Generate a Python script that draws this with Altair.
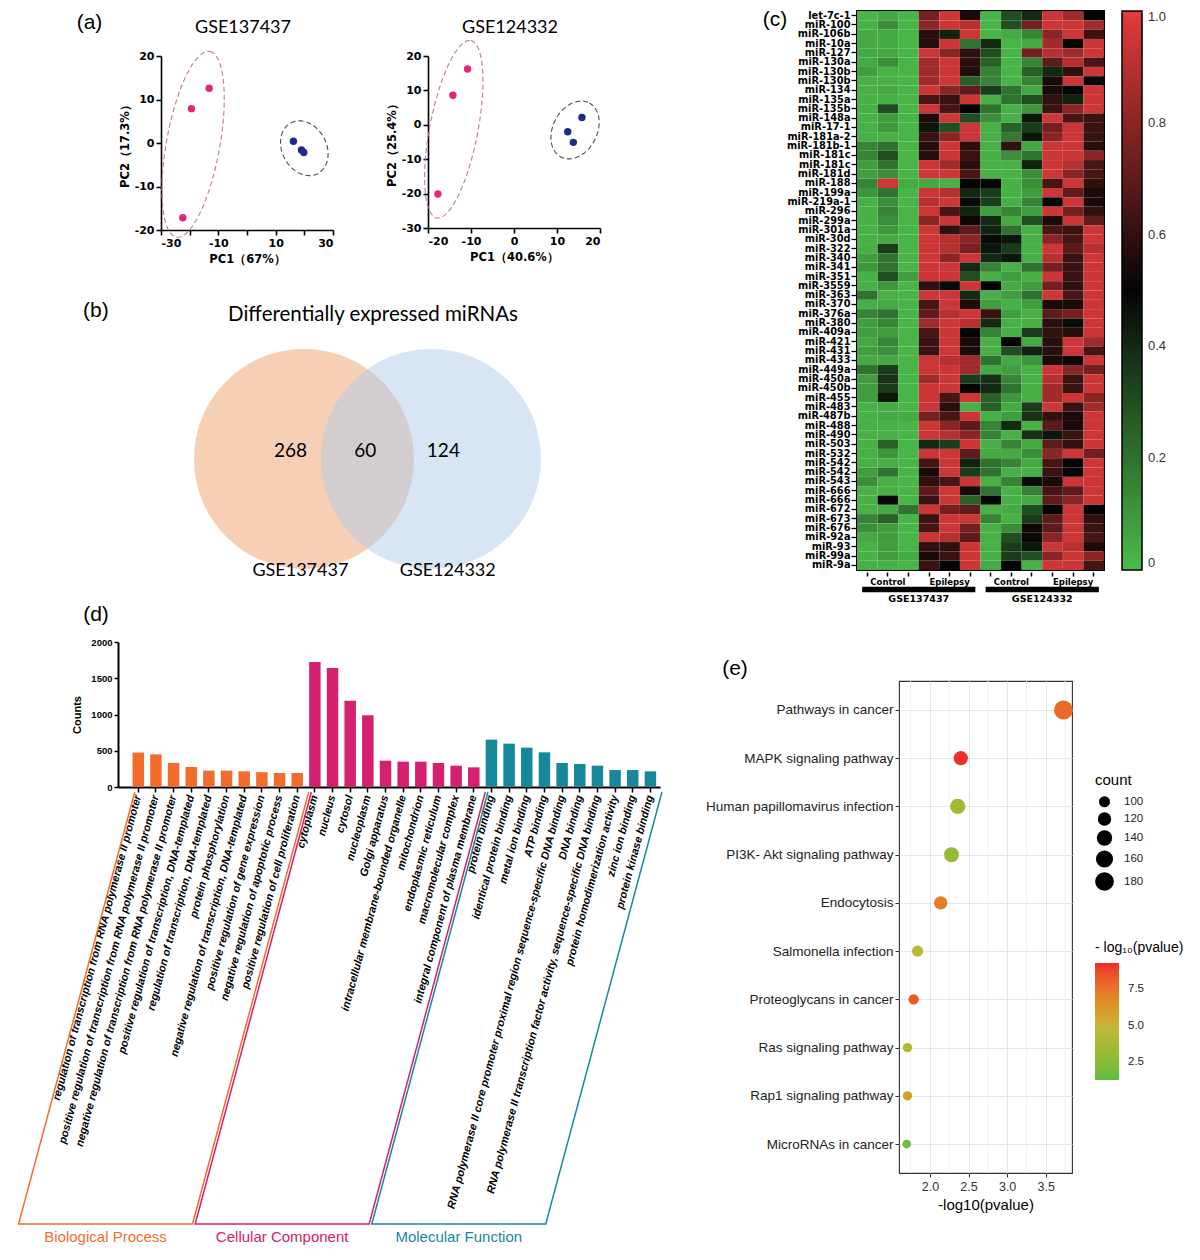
import math
import altair as alt
import pandas as pd

# ============================ DATA ============================
# (a) PCA scores
pca137_pc1 = [-13.2, -19.4, -22.4, 16.2, 19.0, 19.8]
pca137_pc2 = [12.6, 7.9, -17.2, 0.4, -1.6, -2.2]
pca124_pc1 = [-10.8, -14.2, -17.7, 15.8, 12.5, 13.8]
pca124_pc2 = [16.2, 8.6, -20.1, 2.1, -2.0, -5.1]
pca_groups = ["Epilepsy", "Epilepsy", "Epilepsy", "Control", "Control", "Control"]
# group ellipse centres (data units)
ell137_cx = [-18.8, 20.0]
ell137_cy = [-0.3, -1.2]
ell124_cx = [-14.0, 14.2]
ell124_cy = [-1.3, -1.5]

# (b) Venn
venn_sets = ["GSE137437", "GSE124332"]
venn_counts = [268, 60, 124]
venn_title = "Differentially expressed miRNAs"

# (c) heatmap
mirnas = ["let-7c-1", "miR-100", "miR-106b", "miR-10a", "miR-127", "miR-130a", "miR-130b", "miR-130b",
          "miR-134", "miR-135a", "miR-135b", "miR-148a", "miR-17-1", "miR-181a-2", "miR-181b-1", "miR-181c",
          "miR-181c", "miR-181d", "miR-188", "miR-199a", "miR-219a-1", "miR-296", "miR-299a", "miR-301a",
          "miR-30d", "miR-322", "miR-340", "miR-341", "miR-351", "miR-3559", "miR-363", "miR-370",
          "miR-376a", "miR-380", "miR-409a", "miR-421", "miR-431", "miR-433", "miR-449a", "miR-450a",
          "miR-450b", "miR-455", "miR-483", "miR-487b", "miR-488", "miR-490", "miR-503", "miR-532",
          "miR-542", "miR-542", "miR-543", "miR-666", "miR-666", "miR-672", "miR-673", "miR-676",
          "miR-92a", "miR-93", "miR-99a", "miR-9a"]
heat_datasets = ["GSE137437", "GSE124332"]
heat_conditions = ["Control", "Epilepsy"]
ctrl_137 = [(0.02,0.05,0.02),(0.03,0.12,0.02),(0.05,0.05,0.02),(0.05,0.05,0.02),(0.05,0.05,0.02),
            (0.05,0.12,0.02),(0.08,0.03,0.02),(0.03,0.03,0.02),(0.03,0.05,0.02),(0.03,0.03,0.02),
            (0.03,0.30,0.02),(0.03,0.08,0.02),(0.03,0.10,0.02),(0.03,0.03,0.02),(0.15,0.20,0.02),
            (0.15,0.30,0.02),(0.08,0.20,0.02),(0.08,0.12,0.02),(0.15,0.95,0.05),(0.10,0.20,0.02),
            (0.03,0.12,0.02),(0.03,0.15,0.02),(0.03,0.12,0.02),(0.03,0.10,0.02),(0.03,0.05,0.02),
            (0.03,0.35,0.02),(0.08,0.20,0.02),(0.10,0.20,0.02),(0.03,0.30,0.08),(0.03,0.10,0.02),
            (0.20,0.03,0.02),(0.03,0.05,0.02),(0.15,0.20,0.02),(0.08,0.15,0.02),(0.08,0.08,0.02),
            (0.05,0.15,0.02),(0.08,0.12,0.02),(0.05,0.05,0.02),(0.20,0.35,0.02),(0.08,0.38,0.02),
            (0.08,0.35,0.02),(0.08,0.45,0.02),(0.03,0.05,0.02),(0.03,0.05,0.05),(0.03,0.03,0.02),
            (0.03,0.03,0.02),(0.03,0.25,0.02),(0.03,0.10,0.02),(0.03,0.03,0.02),(0.08,0.20,0.02),
            (0.12,0.03,0.02),(0.03,0.03,0.02),(0.03,0.52,0.02),(0.03,0.05,0.20),(0.15,0.25,0.02),
            (0.12,0.08,0.02),(0.05,0.08,0.02),(0.03,0.08,0.02),(0.03,0.08,0.05),(0.03,0.03,0.02)]
epi_137 = [(0.75,0.95,0.55),(0.80,0.95,0.90),(0.58,0.42,0.95),(0.58,0.95,0.20),(0.95,0.80,0.60),
           (0.85,0.95,0.58),(0.85,0.95,0.57),(0.85,0.95,0.25),(0.95,0.80,0.70),(0.65,0.62,0.95),
           (0.95,0.65,0.50),(0.56,0.95,0.30),(0.45,0.30,0.95),(0.62,0.80,0.95),(0.57,0.95,0.58),
           (0.58,0.95,0.62),(0.95,0.85,0.58),(0.95,0.95,0.65),(0.05,0.03,0.50),(0.95,0.90,0.40),
           (0.90,0.95,0.48),(0.95,0.65,0.42),(0.80,0.95,0.52),(0.95,0.60,0.70),(0.95,0.90,0.80),
           (0.95,0.90,0.75),(0.95,0.80,0.95),(0.95,0.95,0.40),(0.95,0.95,0.30),(0.60,0.48,0.95),
           (0.95,0.95,0.40),(0.65,0.95,0.55),(0.70,0.90,0.95),(0.85,0.95,0.90),(0.65,0.95,0.50),
           (0.62,0.95,0.55),(0.62,0.95,0.55),(0.95,0.90,0.85),(0.95,0.95,0.85),(0.85,0.95,0.35),
           (0.95,0.95,0.50),(0.95,0.65,0.95),(0.95,0.58,0.03),(0.75,0.65,0.95),(0.95,0.80,0.70),
           (0.95,0.90,0.80),(0.40,0.35,0.95),(0.95,0.95,0.70),(0.65,0.95,0.42),(0.55,0.95,0.35),
           (0.60,0.65,0.95),(0.70,0.95,0.55),(0.62,0.95,0.25),(0.95,0.75,0.70),(0.62,0.95,0.95),
           (0.65,0.95,0.75),(0.95,0.90,0.70),(0.60,0.60,0.95),(0.55,0.62,0.95),(0.62,0.50,0.95)]
ctrl_124 = [(0.02,0.30,0.40),(0.02,0.30,0.75),(0.02,0.05,0.15),(0.40,0.02,0.05),(0.30,0.02,0.75),
            (0.25,0.02,0.15),(0.15,0.02,0.25),(0.15,0.02,0.15),(0.35,0.20,0.05),(0.03,0.20,0.30),
            (0.20,0.03,0.10),(0.12,0.03,0.45),(0.03,0.25,0.35),(0.03,0.18,0.45),(0.03,0.60,0.05),
            (0.03,0.12,0.20),(0.03,0.03,0.42),(0.03,0.03,0.12),(0.50,0.03,0.12),(0.35,0.03,0.08),
            (0.35,0.03,0.15),(0.08,0.15,0.08),(0.40,0.05,0.30),(0.42,0.20,0.03),(0.48,0.45,0.03),
            (0.45,0.35,0.03),(0.40,0.45,0.03),(0.15,0.03,0.20),(0.03,0.08,0.03),(0.50,0.05,0.08),
            (0.03,0.08,0.20),(0.08,0.03,0.08),(0.62,0.08,0.03),(0.40,0.03,0.03),(0.15,0.03,0.35),
            (0.03,0.50,0.05),(0.03,0.30,0.42),(0.20,0.05,0.10),(0.05,0.08,0.03),(0.38,0.15,0.03),
            (0.40,0.20,0.03),(0.25,0.10,0.03),(0.25,0.05,0.35),(0.03,0.08,0.38),(0.15,0.40,0.03),
            (0.15,0.03,0.38),(0.03,0.15,0.05),(0.05,0.05,0.12),(0.20,0.15,0.05),(0.20,0.03,0.03),
            (0.03,0.15,0.48),(0.20,0.03,0.15),(0.50,0.03,0.05),(0.03,0.05,0.30),(0.15,0.03,0.35),
            (0.03,0.12,0.52),(0.03,0.30,0.52),(0.03,0.35,0.45),(0.03,0.35,0.30),(0.05,0.50,0.03)]
epi_124 = [(0.95,0.85,0.50),(0.95,0.95,0.85),(0.80,0.95,0.62),(0.85,0.50,0.95),(0.90,0.85,0.95),
           (0.70,0.90,0.65),(0.40,0.60,0.95),(0.55,0.95,0.52),(0.55,0.50,0.95),(0.60,0.42,0.95),
           (0.62,0.80,0.95),(0.95,0.65,0.62),(0.75,0.95,0.62),(0.80,0.95,0.62),(0.95,0.95,0.58),
           (0.95,0.95,0.80),(0.95,0.90,0.65),(0.95,0.80,0.65),(0.65,0.95,0.60),(0.95,0.70,0.55),
           (0.50,0.95,0.55),(0.95,0.75,0.60),(0.55,0.95,0.70),(0.65,0.62,0.95),(0.80,0.65,0.95),
           (0.95,0.70,0.90),(0.90,0.62,0.95),(0.75,0.62,0.95),(0.95,0.62,0.95),(0.75,0.60,0.95),
           (0.95,0.65,0.95),(0.55,0.55,0.95),(0.70,0.75,0.95),(0.58,0.48,0.95),(0.60,0.58,0.95),
           (0.58,0.95,0.85),(0.58,0.95,0.65),(0.55,0.52,0.95),(0.95,0.80,0.75),(0.90,0.62,0.95),
           (0.85,0.62,0.95),(0.85,0.95,0.80),(0.95,0.62,0.85),(0.60,0.55,0.95),(0.70,0.55,0.95),
           (0.45,0.62,0.95),(0.70,0.60,0.95),(0.80,0.95,0.75),(0.65,0.50,0.95),(0.62,0.50,0.95),
           (0.55,0.95,0.95),(0.65,0.70,0.95),(0.70,0.80,0.95),(0.50,0.95,0.50),(0.70,0.95,0.60),
           (0.70,0.95,0.62),(0.80,0.95,0.65),(0.95,0.90,0.55),(0.80,0.95,0.80),(0.95,0.95,0.65)]

# (d) GO terms
go_categories = ["Biological Process", "Cellular Component", "Molecular Function"]
bp_terms = ["regulation of transcription from RNA polymerase II promoter",
            "positive regulation of transcription from RNA polymerase II promoter",
            "negative regulation of transcription from RNA polymerase II promoter",
            "positive regulation of transcription, DNA-templated",
            "regulation of transcription, DNA-templated",
            "protein phosphorylation",
            "negative regulation of transcription, DNA-templated",
            "positive regulation of gene expression",
            "negative regulation of apoptotic process",
            "positive regulation of cell proliferation"]
bp_counts = [475, 450, 332, 276, 226, 226, 217, 204, 193, 193]
cc_terms = ["cytoplasm", "nucleus", "cytosol", "nucleoplasm", "Golgi apparatus",
            "intracellular membrane-bounded organelle", "mitochondrion", "endoplasmic reticulum",
            "macromolecular complex", "integral component of plasma membrane"]
cc_counts = [1724, 1641, 1191, 989, 363, 350, 349, 331, 294, 271]
mf_terms = ["protein binding", "identical protein binding", "metal ion binding", "ATP binding",
            "RNA polymerase II core promoter proximal region sequence-specific DNA binding",
            "DNA binding",
            "RNA polymerase II transcription factor activity, sequence-specific DNA binding",
            "protein homodimerization activity", "zinc ion binding", "protein kinase binding"]
mf_counts = [653, 598, 543, 478, 331, 317, 294, 234, 234, 216]

# (e) KEGG pathways
kegg_terms = ["Pathways in cancer", "MAPK signaling pathway", "Human papillomavirus infection",
              "PI3K- Akt signaling pathway", "Endocytosis", "Salmonella infection",
              "Proteoglycans in cancer", "Ras signaling pathway", "Rap1 signaling pathway",
              "MicroRNAs in cancer"]
kegg_neglog10p = [3.73, 2.40, 2.36, 2.28, 2.14, 1.84, 1.79, 1.71, 1.71, 1.70]
kegg_count = [183, 129, 140, 136, 120, 102, 95, 88, 88, 84]
kegg_colour_value = [7.8, 9.2, 3.5, 3.0, 7.2, 4.3, 8.3, 4.0, 6.0, 1.8]

# ============================ STYLE ============================
FONT = "Liberation Sans"
WIDE = "DejaVu Sans"
SOFT = "Lato"
PINK = "#e3277b"
NAVY = "#1e2a86"
GO_COLORS = ["#f26d2d", "#d4206e", "#17879c"]


def text_at(text, dx, dy, size=21, font=FONT, opacity=1.0, align="center"):
    """A free-standing label placed relative to the panel's plot origin."""
    return alt.Chart(pd.DataFrame({"t": [text]})).mark_text(
        font=font, fontSize=size, align=align, baseline="middle", color="black", opacity=opacity
    ).encode(text="t:N", x=alt.value(dx), y=alt.value(dy))


def spacer(w, h, label=None, dx=0, dy=0):
    if label is None:
        return alt.Chart(pd.DataFrame({"s": [0]})).mark_point(opacity=0, size=1).encode(
            x=alt.value(0), y=alt.value(0)).properties(width=w, height=h)
    return text_at(label, dx, dy).properties(width=w, height=h)


def ellipse_outline(cx, cy, a_px, b_px, tilt_deg, sx, sy, n=96):
    """Outline of a tilted group ellipse (semi-axes given in pixels), returned in data units."""
    t0 = math.radians(tilt_deg)
    ux, uy = a_px * math.sin(t0) / sx, a_px * math.cos(t0) / sy
    vx, vy = b_px * math.cos(t0) / sx, -b_px * math.sin(t0) / sy
    rows = []
    for i in range(n + 1):
        t = 2 * math.pi * i / n
        rows.append({"PC1": cx + ux * math.cos(t) + vx * math.sin(t),
                     "PC2": cy + uy * math.cos(t) + vy * math.sin(t), "k": i})
    return pd.DataFrame(rows)


def stack(*charts, spacing=0):
    return alt.vconcat(*charts, spacing=spacing).resolve_scale(color="independent", size="independent")


def row(*charts, spacing=0):
    return alt.hconcat(*charts, spacing=spacing).resolve_scale(color="independent", size="independent")


# ============================ (a) ============================
def pca_panel(title, pc1, pc2, xdom, ydom, xticks, yticks, xtitle, ytitle, w, h,
              ell_cx, ell_cy, ell_shapes):
    df = pd.DataFrame({"PC1": pc1, "PC2": pc2, "group": pca_groups})
    xs = alt.Scale(domain=xdom, nice=False, zero=False)
    ys = alt.Scale(domain=ydom, nice=False, zero=False)
    sx = w / (xdom[1] - xdom[0])
    sy = h / (ydom[1] - ydom[0])
    ax = dict(domainColor="black", domainWidth=1.6, tickColor="black", tickWidth=1.6, tickSize=5,
              labelFont=WIDE, labelFontWeight="bold", labelFontSize=11, labelColor="black",
              titleFont=WIDE, titleFontWeight="bold", titleFontSize=11.5, titleColor="black",
              grid=False, labelPadding=2, labelExpr="datum.value + ''")
    xax = alt.Axis(values=xticks, title=xtitle, titlePadding=5, **ax)
    yax = alt.Axis(values=yticks, title=ytitle, titlePadding=4, **ax)
    pts = alt.Chart(df).mark_circle(size=55, opacity=1).encode(
        x=alt.X("PC1:Q", scale=xs, axis=xax),
        y=alt.Y("PC2:Q", scale=ys, axis=yax),
        color=alt.Color("group:N", scale=alt.Scale(domain=["Epilepsy", "Control"], range=[PINK, NAVY]),
                        legend=None),
    )
    layers = [pts]
    for cx, cy, (A, B, ang, col) in zip(ell_cx, ell_cy, ell_shapes):
        edf = ellipse_outline(cx, cy, A, B, ang, sx, sy)
        layers.append(alt.Chart(edf).mark_line(color=col, strokeWidth=1.1, strokeDash=[5, 3]).encode(
            x=alt.X("PC1:Q", scale=xs, axis=xax), y=alt.Y("PC2:Q", scale=ys, axis=yax), order="k:Q"))
    layers.append(text_at(title, w / 2 - 4, -28, size=18, font=SOFT))
    return alt.layer(*layers).properties(width=w, height=h)


a1 = pca_panel("GSE137437", pca137_pc1, pca137_pc2, [-30, 30], [-20, 20],
               [-30, -20, -10, 0, 10, 20, 30], [-20, -10, 0, 10, 20],
               "PC1（67%）", "PC2（17.3%）", 172, 174, ell137_cx, ell137_cy,
               [(94.3, 26.7, 10.2, "#c07898"), (28.7, 22.2, -28, "#464c6e")])
a2 = pca_panel("GSE124332", pca124_pc1, pca124_pc2, [-20, 20], [-30, 20],
               [-20, -10, 0, 10, 20], [-30, -20, -10, 0, 10, 20],
               "PC1（40.6%）", "PC2（25.4%）", 172, 172, ell124_cx, ell124_cy,
               [(90.3, 24.1, 10.9, "#c07898"), (30.5, 22.1, 27.5, "#464c6e")])
a_block = row(spacer(1, 1, "(a)", -28.5, -33), row(a1, a2, spacing=52), spacing=0)

# ============================ (b) ============================
VENN_W, VENN_H = 542.5, 339
venn_xdom = [-2.268, 2.664]
venn_ydom = [-1.319, 1.764]
px_per_unit = VENN_W / (venn_xdom[1] - venn_xdom[0])
venn_circle_x = [-0.577, 0.577]
vx = alt.Scale(domain=venn_xdom, nice=False, zero=False)
vy = alt.Scale(domain=venn_ydom, nice=False, zero=False)
circ_df = pd.DataFrame({"set": venn_sets, "cx": venn_circle_x, "cy": [0.0, 0.0]})
circles = alt.Chart(circ_df).mark_circle(size=(2 * px_per_unit) ** 2, opacity=0.5).encode(
    x=alt.X("cx:Q", scale=vx, axis=None), y=alt.Y("cy:Q", scale=vy, axis=None),
    color=alt.Color("set:N", scale=alt.Scale(domain=venn_sets, range=["#ee9f6c", "#b0cbe9"]), legend=None))
num_df = pd.DataFrame({"n": [str(v) for v in venn_counts], "x": [-0.70, -0.02, 0.69], "y": [0.07] * 3})
nums = alt.Chart(num_df).mark_text(font=SOFT, fontSize=19, color="black").encode(
    x=alt.X("x:Q", scale=vx, axis=None), y=alt.Y("y:Q", scale=vy, axis=None), text="n:N")
set_df = pd.DataFrame({"s": venn_sets, "x": [-0.61, 0.73], "y": [-1.02, -1.02]})
set_txt = alt.Chart(set_df).mark_text(font=SOFT, fontSize=18, color="black").encode(
    x=alt.X("x:Q", scale=vx, axis=None), y=alt.Y("y:Q", scale=vy, axis=None), text="s:N")
ttl_df = pd.DataFrame({"s": [venn_title], "x": [0.05], "y": [1.31]})
venn_title_txt = alt.Chart(ttl_df).mark_text(font=SOFT, fontSize=20.5, color="black").encode(
    x=alt.X("x:Q", scale=vx, axis=None), y=alt.Y("y:Q", scale=vy, axis=None), text="s:N")
lab_df = pd.DataFrame({"s": ["(b)"], "x": [-2.47], "y": [1.345]})
venn_lab_txt = alt.Chart(lab_df).mark_text(font=FONT, fontSize=21, color="black").encode(
    x=alt.X("x:Q", scale=vx, axis=None), y=alt.Y("y:Q", scale=vy, axis=None), text="s:N")
venn = alt.layer(circles, nums, set_txt, venn_title_txt, venn_lab_txt).properties(width=VENN_W, height=VENN_H)

# ============================ (c) ============================
groups = [ctrl_137, epi_137, ctrl_124, epi_124]
recs = []
for gi, g in enumerate(groups):
    for r, triple in enumerate(g):
        for k, v in enumerate(triple):
            recs.append({"row": r, "col": gi * 3 + k, "value": v})
heat_df = pd.DataFrame(recs)
col_labels = []
for ds in heat_datasets:
    for cond in heat_conditions:
        col_labels += ["", cond, ""]
x_label_expr = "[" + ",".join(f"'{s}'" for s in col_labels) + "][datum.value]"
y_label_expr = "[" + ",".join(f"'{s}'" for s in mirnas) + "][datum.value]"
n_rows, n_cols = len(mirnas), len(col_labels)
rects = alt.Chart(heat_df).mark_rect().encode(
    x=alt.X("col:O", axis=alt.Axis(labelExpr=x_label_expr, labelAngle=0, title=None, domain=False,
                                   tickColor="black", tickSize=4, tickWidth=1.5, offset=2,
                                   labelFont=WIDE, labelFontWeight="bold", labelFontSize=8.5,
                                   labelColor="black", labelPadding=1)),
    y=alt.Y("row:O", axis=alt.Axis(labelExpr=y_label_expr, title=None, domain=False, tickColor="black",
                                   tickSize=5, tickWidth=1.3, offset=1, labelFont=WIDE,
                                   labelFontWeight="bold", labelFontSize=9.8, labelColor="black",
                                   labelPadding=1, labelOverlap=False)),
    color=alt.Color("value:Q",
                    scale=alt.Scale(domain=[0, 0.5, 1], range=["#4cbb4b", "#050505", "#e33b3b"],
                                    interpolate="rgb"),
                    legend=alt.Legend(title=None, orient="right", direction="vertical", gradientLength=559,
                                      gradientThickness=20, offset=18, values=[0, 0.2, 0.4, 0.6, 0.8, 1.0],
                                      labelExpr="datum.value == 0 ? '0' : format(datum.value, '.1f')",
                                      labelFontSize=13, labelFont=FONT, labelColor="#333333",
                                      labelOffset=6, gradientStrokeColor="black", gradientStrokeWidth=1.5,
                                      padding=0)),
)
ds_df = pd.DataFrame({"dataset": heat_datasets,
                      "start": [i * 6 + 0.25 for i in range(2)],
                      "end": [i * 6 + 5.75 for i in range(2)],
                      "mid": [i * 6 + 3 for i in range(2)],
                      "ybar": [-2.1, -2.1], "ytxt": [-3.1, -3.1]})
hx = alt.Scale(domain=[0, n_cols], nice=False, zero=False)
hy = alt.Scale(domain=[0, n_rows], nice=False, zero=False)
ds_bars = alt.Chart(ds_df).mark_rule(strokeWidth=5.5, color="black").encode(
    x=alt.X("start:Q", scale=hx, axis=None), x2="end:Q", y=alt.Y("ybar:Q", scale=hy, axis=None))
ds_text = alt.Chart(ds_df).mark_text(font=WIDE, fontWeight="bold", fontSize=9.5, color="black").encode(
    x=alt.X("mid:Q", scale=hx, axis=None), y=alt.Y("ytxt:Q", scale=hy, axis=None), text="dataset:N")
heat = alt.layer(rects, ds_bars, ds_text, text_at("(c)", -82, 9)).resolve_scale(
    x="independent", y="independent").properties(
    width=247, height=559, view=alt.ViewBackground(stroke="black", strokeWidth=2))

# ============================ (d) ============================
terms = bp_terms + cc_terms + mf_terms
counts = bp_counts + cc_counts + mf_counts
cats = [go_categories[0]] * len(bp_terms) + [go_categories[1]] * len(cc_terms) + [go_categories[2]] * len(mf_terms)
go_df = pd.DataFrame({"term": terms, "count": counts, "category": cats})
go_color = alt.Scale(domain=go_categories, range=GO_COLORS)
D_W, D_H = 542, 145
bars = alt.Chart(go_df).mark_bar().encode(
    x=alt.X("term:N", sort=None,
            scale=alt.Scale(paddingInner=0.35, paddingOuter=0.52, align=0.79),
            axis=alt.Axis(title=None, labelAngle=285, labelAlign="right", labelBaseline="middle",
                          labelFont=FONT, labelFontStyle="italic", labelFontWeight="bold",
                          labelFontSize=11, labelLimit=0, labelColor="black", tickColor="black",
                          tickSize=5, tickWidth=1.5, domainColor="black", domainWidth=2, labelPadding=3)),
    y=alt.Y("count:Q", scale=alt.Scale(domain=[0, 2000], nice=False),
            axis=alt.Axis(values=[0, 500, 1000, 1500, 2000], title="Counts", grid=False, format="d",
                          domainColor="black", domainWidth=2, tickColor="black", tickWidth=1.5,
                          tickSize=4, labelFont=FONT, labelFontWeight="bold", labelFontSize=9.5,
                          labelColor="black", titleFont=FONT, titleFontWeight="bold",
                          titleFontSize=11, titleColor="black", titlePadding=8)),
    color=alt.Color("category:N", scale=go_color, legend=None),
)
# bracket geometry, in bar-index units (x) and pixels below the axis (y)
step_units = [-1.15, 29.54]
SLANT, BR_TOP, BR_BOT, BR_TXT = 6.58, -5, -437, -450
br_rows, br_lab = [], []
start = 0
for cat, grp in zip(go_categories, [bp_terms, cc_terms, mf_terms]):
    first, last = start, start + len(grp) - 1
    tl, tr = first - 0.2, last + 0.65
    for k, (bx, by) in enumerate([(tl, BR_TOP), (tl - SLANT, BR_BOT), (tr - SLANT, BR_BOT), (tr, BR_TOP)]):
        br_rows.append({"category": cat, "k": k, "bx": bx, "by": by})
    br_lab.append({"category": cat, "bx": (tl + tr) / 2 - SLANT, "by": BR_TXT})
    start += len(grp)
bx_scale = alt.Scale(domain=step_units, nice=False, zero=False)
by_scale = alt.Scale(domain=[0, D_H], nice=False, zero=False)
brackets = alt.Chart(pd.DataFrame(br_rows)).mark_line(strokeWidth=1.5).encode(
    x=alt.X("bx:Q", scale=bx_scale, axis=None), y=alt.Y("by:Q", scale=by_scale, axis=None),
    color=alt.Color("category:N", scale=go_color, legend=None), order="k:Q", detail="category:N")
bracket_text = alt.Chart(pd.DataFrame(br_lab)).mark_text(font=FONT, fontSize=15).encode(
    x=alt.X("bx:Q", scale=bx_scale, axis=None), y=alt.Y("by:Q", scale=by_scale, axis=None),
    color=alt.Color("category:N", scale=go_color, legend=None), text="category:N")
d_chart = alt.layer(bars, brackets, bracket_text, text_at("(d)", -22, -27)).resolve_scale(
    x="independent", y="independent").properties(width=D_W, height=D_H)

# ============================ (e) ============================
kegg_df = pd.DataFrame({"pathway": kegg_terms, "x": kegg_neglog10p, "count": kegg_count,
                        "logp": kegg_colour_value})
minor_df = pd.DataFrame({"m": [1.75, 2.25, 2.75, 3.25, 3.75]})
ex = alt.Scale(domain=[1.6, 3.84], nice=False, zero=False)
minor_rules = alt.Chart(minor_df).mark_rule(color="#f0f0f0", strokeWidth=1).encode(
    x=alt.X("m:Q", scale=ex, axis=None))
dots = alt.Chart(kegg_df).mark_circle(opacity=1).encode(
    x=alt.X("x:Q", scale=ex,
            axis=alt.Axis(values=[2.0, 2.5, 3.0, 3.5], format=".1f", title="-log10(pvalue)", grid=True,
                          gridColor="#e6e6e6", domain=False, tickColor="#333333", tickSize=4,
                          labelFont=FONT, labelFontSize=12.5, labelColor="#333333", titleFont=FONT,
                          titleFontSize=15, titleFontWeight="normal", titleColor="black",
                          titlePadding=5, labelPadding=3)),
    y=alt.Y("pathway:N", sort=None, scale=alt.Scale(padding=0.6),
            axis=alt.Axis(title=None, grid=True, gridColor="#e6e6e6", domain=False, tickColor="#333333",
                          tickSize=4, labelFont=FONT, labelFontSize=13.5, labelColor="#222222",
                          labelPadding=2, labelLimit=0)),
    size=alt.Size("count:Q", scale=alt.Scale(domain=[100, 180], range=[121, 350], zero=False),
                  legend=alt.Legend(title="count", values=[100, 120, 140, 160, 180], orient="none",
                                    legendX=196, legendY=92, titleFont=FONT, titleFontSize=15,
                                    titleFontWeight="normal", titleColor="black", labelFont=FONT,
                                    labelFontSize=11.5, labelColor="#222222", symbolFillColor="black",
                                    symbolStrokeWidth=0, symbolType="circle", labelOffset=10,
                                    rowPadding=4, padding=0, titlePadding=8, symbolOpacity=1)),
    color=alt.Color("logp:Q",
                    scale=alt.Scale(domain=[1.28, 5.0, 7.5, 9.27],
                                    range=["#5fbd46", "#c6b53a", "#e8742b", "#ee2a2a"]),
                    legend=alt.Legend(title="- log₁₀(pvalue)", orient="none", legendX=196, legendY=260,
                                      gradientLength=117, gradientThickness=24, values=[2.5, 5.0, 7.5],
                                      format=".1f", titleFont=FONT, titleFontSize=14,
                                      titleFontWeight="normal", titleColor="black", labelFont=FONT,
                                      labelFontSize=11.5, labelColor="#222222", labelOffset=9,
                                      gradientStrokeWidth=0, padding=0, titlePadding=8)),
)
e_chart = alt.layer(minor_rules, dots, text_at("(e)", -164, -12)).resolve_scale(
    x="independent").properties(width=173, height=492,
                                view=alt.ViewBackground(stroke="#333333", strokeWidth=1.1))

# ============================ LAYOUT ============================
# subviews in a concat line up on their plot origins; small spacers set the offsets
left_col = stack(spacer(1, 1), a_block, venn, d_chart, spacing=0)
right_col = stack(row(spacer(75, 1), heat, spacing=0), row(spacer(18, 1), e_chart, spacing=0), spacing=52)
chart = row(left_col, right_col, spacing=20).properties(
    padding={"left": 7, "top": 0, "right": 0, "bottom": 2}
).configure(font=FONT).configure_view(strokeWidth=0)

chart.save("out.html", embed_options={"renderer": "svg", "actions": False})
